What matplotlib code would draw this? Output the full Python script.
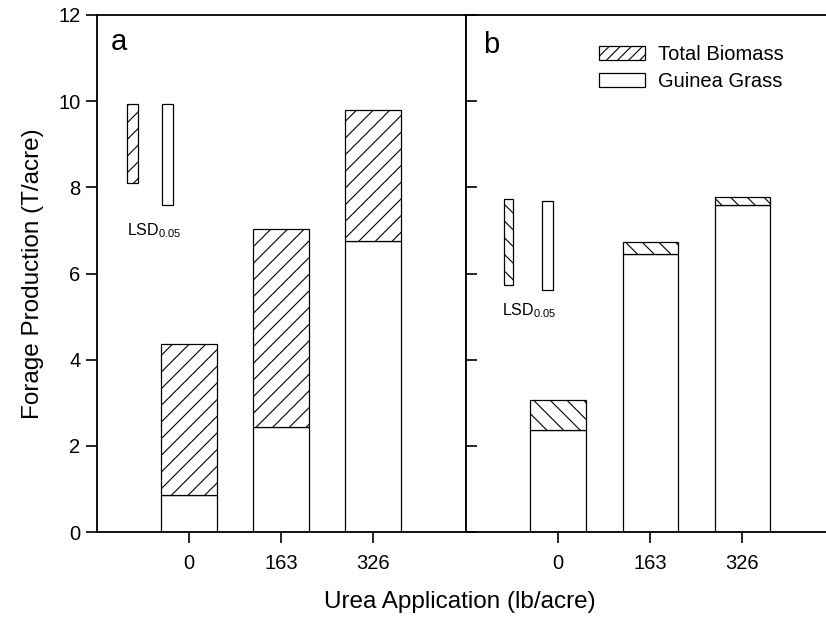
import matplotlib
matplotlib.use("Agg")
import matplotlib.pyplot as plt
from matplotlib.patches import Patch

plt.rcParams['font.family'] = ['Liberation Sans', 'DejaVu Sans']
plt.rcParams['mathtext.default'] = 'regular'
plt.rcParams['hatch.linewidth'] = 0.8

urea_rates = ['0', '163', '326']

# panel a: forage yield (T/acre)
guinea_a = [0.87, 2.44, 6.76]
total_a = [4.37, 7.03, 9.80]
lsd_a = [1.83, 2.35]   # total biomass, guinea grass

# panel b
guinea_b = [2.37, 6.45, 7.59]
total_b = [3.06, 6.72, 7.78]
lsd_b = [2.00, 2.08]

W, H = 826, 630
fig = plt.figure(figsize=(W / 100, H / 100), dpi=100)

def px_axes(x0, x1, y0, y1):
    return fig.add_axes([x0 / W, 1 - y1 / H, (x1 - x0) / W, (y1 - y0) / H])

ax_a = px_axes(97, 466, 15, 532)
ax_b = px_axes(466, 826, 15, 532)

bw = 0.6
edge = dict(edgecolor='black', linewidth=0.9)

def draw_panel(ax, guinea, total, hatch, lsd, lsd_x, lsd_w, lsd_top, lsd_txt, label, label_xy):
    xs = range(len(urea_rates))
    extra = [t - g for t, g in zip(total, guinea)]
    ax.bar(xs, guinea, width=bw, color='white', **edge)
    ax.bar(xs, extra, width=bw, bottom=guinea, color='white', hatch=hatch, **edge)
    # LSD reference bars
    ax.bar(lsd_x[0], lsd[0], width=lsd_w[0], bottom=lsd_top[0] - lsd[0],
           color='white', hatch=hatch, **edge)
    ax.bar(lsd_x[1], lsd[1], width=lsd_w[1], bottom=lsd_top[1] - lsd[1],
           color='white', **edge)
    ax.text(lsd_txt[0], lsd_txt[1], r'LSD$_{0.05}$', fontsize=11.5, va='baseline')
    ax.text(label_xy[0], label_xy[1], label, fontsize=21, va='baseline')
    ax.set_xticks(list(xs))
    ax.set_xticklabels(urea_rates)
    ax.set_ylim(0, 12)
    ax.tick_params(axis='x', direction='out', length=8, width=1.2, labelsize=14.5, pad=8)
    for s in ax.spines.values():
        s.set_linewidth(1.3)

draw_panel(ax_a, guinea_a, total_a, '//', lsd_a,
           (-0.61, -0.23), (0.12, 0.12), (9.93, 9.93), (-0.67, 6.89), 'a', (-0.85, 11.19))
ax_a.set_xlim(-1.0, 3.01)
ax_a.set_yticks(range(0, 13, 2))
ax_a.tick_params(axis='y', direction='out', length=8, width=1.2, labelsize=14.5, pad=4)
ax_a.set_ylabel('Forage Production (T/acre)', fontsize=17.5, labelpad=10)

draw_panel(ax_b, guinea_b, total_b, '\\\\', lsd_b,
           (-0.54, -0.11), (0.10, 0.12), (7.73, 7.69), (-0.61, 5.04), 'b', (-0.81, 11.12))
ax_b.set_xlim(-1.0, 2.91)
ax_b.set_yticks(range(0, 13, 2))
ax_b.tick_params(axis='y', direction='in', length=8, width=1.2, labelleft=False)
ax_b.spines['right'].set_visible(False)

handles = [Patch(facecolor='white', edgecolor='black', linewidth=0.9, hatch='///'),
           Patch(facecolor='white', edgecolor='black', linewidth=0.9)]
fig.legend(handles, ['Total Biomass', 'Guinea Grass'], loc='upper left',
           bbox_to_anchor=(599 / W, 1 - 45 / H), frameon=False, fontsize=14.5,
           borderpad=0, borderaxespad=0, handlelength=2.3, handleheight=0.7,
           handletextpad=0.65, labelspacing=0.4)

fig.text(460 / W, 1 - 602 / H, 'Urea Application (lb/acre)', fontsize=17.5,
         ha='center', va='center')

fig.savefig('out.png', dpi=100)
